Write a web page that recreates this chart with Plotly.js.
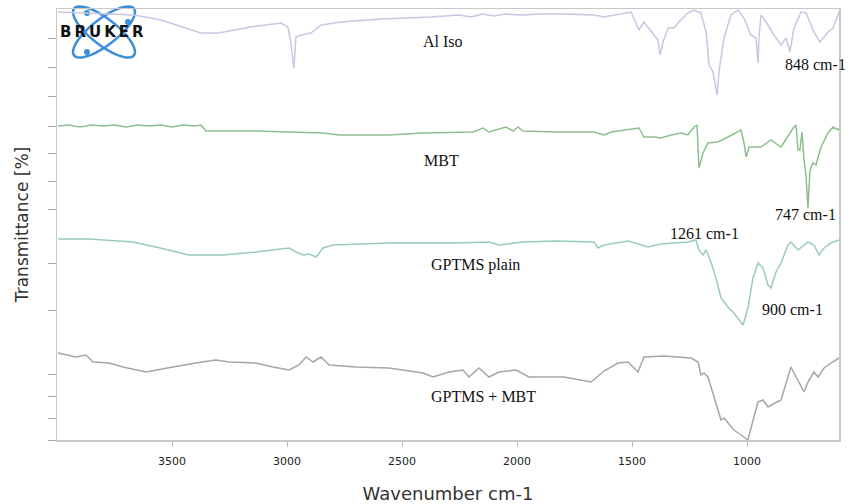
<!DOCTYPE html>
<html>
<head>
<meta charset="utf-8">
<script src="https://cdn.plot.ly/plotly-3.0.1.min.js"></script>
<style>html,body{margin:0;padding:0;background:#fff;}#chart{width:859px;height:504px;}</style>
</head>
<body>
<div id="chart"></div>
<script>
// ---- Data (wavenumber cm-1, stacked transmittance offset units) ----
const alIsoWn = [3996,3665,3548,3374,3300,3157,3026,2996,2983,2970,2961,2939,2896,2852,2765,2591,2374,2300,2250,2200,2150,2100,2050,1980,1900,1796,1665,1622,1504,1470,1448,1387,1378,1365,1343,1317,1296,1257,1230,1200,1178,1165,1148,1130,1122,1100,1070,1039,1013,983,961,952,948,939,909,883,852,830,813,796,765,743,709,683,648,626,600];
const alIsoT  = [428,425,420,407,407,413,417,413,397,372,403,405,407,415,418,421,423,424,425,423,426,424,426,425,426,426,425,423,428,410,418,400,385,398,412,412,418,427,430,427,408,375,368,345,368,402,425,430,422,405,402,377,402,425,415,405,395,402,388,412,428,427,408,398,408,412,428];

const mbtWn = [3996,3950,3900,3850,3800,3750,3700,3650,3600,3550,3500,3450,3400,3374,3352,3135,2843,2774,2557,2409,2191,2148,2122,2048,2017,1996,1974,1830,1665,1622,1591,1470,1448,1404,1374,1330,1287,1257,1230,1217,1209,1191,1170,1126,1083,1026,1013,1004,991,939,896,852,796,787,778,770,761,752,743,735,726,713,700,678,648,626,604,600];
const mbtT  = [314,315,313,315,314,315,313,315,314,315,313,315,314,315,309,309,307,305,305,307,308,312,308,313,309,313,309,308,308,305,308,312,303,303,302,305,307,305,313,315,272,287,297,298,303,310,297,283,293,293,300,293,313,315,290,290,308,280,263,232,270,277,275,293,307,313,310,312];

const gptmsWn = [3996,3861,3670,3570,3426,3278,3135,2991,2961,2930,2904,2874,2843,2800,2557,2265,2122,2078,1974,1830,1665,1648,1622,1517,1430,1374,1257,1222,1209,1191,1178,1157,1135,1113,1083,1057,1017,996,974,952,930,909,896,874,852,822,809,778,735,709,687,665,635,600];
const gptmsT  = [201,201,198,193,185,185,188,192,188,185,186,183,192,195,197,197,198,195,198,199,198,192,195,199,193,196,198,200,190,185,190,178,162,142,133,127,115,132,162,177,172,155,152,168,177,195,198,190,198,195,185,192,197,200];

const mixWn = [3996,3917,3874,3843,3774,3713,3613,3570,3496,3396,3309,3252,3135,3061,2991,2948,2917,2887,2852,2817,2700,2557,2409,2365,2296,2235,2209,2165,2122,2078,2004,1948,1830,1796,1678,1622,1561,1517,1474,1448,1361,1243,1213,1200,1187,1170,1143,1113,1100,1070,1057,1026,996,970,952,930,909,870,852,809,787,752,735,709,691,665,635,600];
const mixT  = [87,83,85,78,77,73,68,70,73,77,80,78,77,73,70,75,83,78,83,75,73,72,67,63,68,70,63,72,63,68,70,63,63,63,58,69,77,78,68,83,84,82,78,65,67,63,43,20,22,13,10,5,0,23,38,40,33,38,40,73,63,48,58,68,63,72,77,82];

const seriesNames = ["Al Iso","MBT","GPTMS plain","GPTMS + MBT"];
const seriesColors = ["#c6c7e2","#8dbf8d","#9dc9c5","#a6a6a6"];
const xTickVals = [3500,3000,2500,2000,1500,1000];
const xTickText = ["3500","3000","2500","2000","1500","1000"];
const yTickVals = [0,22,44,66,130,177,231,259,287,314,344,373,402];

// ---- layout helpers (pixel -> paper) ----
const L = 57, R = 839, T = 9, B = 440;
const px = x => (x - L) / (R - L);
const py = y => (B - y) / (B - T);

const xs = [alIsoWn, mbtWn, gptmsWn, mixWn];
const ys = [alIsoT, mbtT, gptmsT, mixT];
const traces = xs.map((x, i) => ({
  x: x, y: ys[i], type: 'scatter', mode: 'lines', name: seriesNames[i],
  line: {color: seriesColors[i], width: 1.5}, hoverinfo: 'skip'
}));

const serif = {family: 'Liberation Serif, "Times New Roman", serif', size: 16, color: '#111'};
const labels = [
  ["Al Iso", 443, 42], ["848 cm-1", 815, 64], ["MBT", 441, 160], ["747 cm-1", 805, 215],
  ["1261 cm-1", 704, 233], ["GPTMS plain", 475, 265], ["900 cm-1", 792, 309], ["GPTMS + MBT", 483, 396]
];
const annotations = labels.map(l => ({
  text: l[0], xref: 'paper', yref: 'paper', x: px(l[1]), y: py(l[2]),
  xanchor: 'center', yanchor: 'middle', showarrow: false, font: serif
}));
annotations.push({
  text: '<span style="letter-spacing:3px"><b>BRUKER</b></span>', xref: 'paper', yref: 'paper', x: px(103), y: py(32),
  xanchor: 'center', yanchor: 'middle', showarrow: false,
  font: {family: 'DejaVu Sans, sans-serif', size: 15, color: '#111'}
});

// Bruker logo loops (decoration)
function ellipsePath(cx, cy, a, b, angDeg) {
  const th = angDeg * Math.PI / 180;
  let d = '';
  for (let k = 0; k <= 48; k++) {
    const t = 2 * Math.PI * k / 48;
    const ex = a * Math.cos(t), ey = b * Math.sin(t);
    const X = cx + ex * Math.cos(th) - ey * Math.sin(th);
    const Y = cy + ex * Math.sin(th) + ey * Math.cos(th);
    d += (k === 0 ? 'M' : 'L') + px(X).toFixed(4) + ',' + py(Y).toFixed(4);
  }
  return d + 'Z';
}
const logoBlue = '#3d8fd9';
const shapes = [
  {type: 'path', xref: 'paper', yref: 'paper', path: ellipsePath(104, 32, 38, 13, 38), line: {color: logoBlue, width: 2.5}, layer: 'below'},
  {type: 'path', xref: 'paper', yref: 'paper', path: ellipsePath(104, 32, 38, 13, -38), line: {color: logoBlue, width: 2.5}, layer: 'below'}
];
[[87, 13], [87, 52], [128, 22]].forEach(p => shapes.push({
  type: 'circle', xref: 'paper', yref: 'paper', x0: px(p[0] - 3), x1: px(p[0] + 3), y0: py(p[1] + 3), y1: py(p[1] - 3),
  fillcolor: logoBlue, line: {width: 0}, layer: 'below'
}));

const layout = {
  width: 859, height: 504,
  margin: {l: L, r: 859 - R, t: T, b: 504 - B},
  paper_bgcolor: '#fff', plot_bgcolor: '#fff',
  showlegend: false,
  xaxis: {
    range: [4000, 600], tickvals: xTickVals, ticktext: xTickText,
    ticks: 'outside', ticklen: 5, tickcolor: '#bbb', showgrid: false, zeroline: false,
    showline: true, linecolor: '#c8c8c8', linewidth: 1.5, mirror: true,
    ticklabelstandoff: 5,
    tickfont: {family: 'DejaVu Sans, sans-serif', size: 11, color: '#222'},
    title: {text: 'Wavenumber cm-1', font: {family: 'DejaVu Sans, sans-serif', size: 18, color: '#333'}, standoff: 20},
    automargin: false
  },
  yaxis: {
    range: [0, 431], tickvals: yTickVals, showticklabels: false,
    ticks: 'outside', ticklen: 8, tickcolor: '#aaa', showgrid: false, zeroline: false,
    showline: true, linecolor: '#c8c8c8', linewidth: 1.5, mirror: true,
    title: {text: 'Transmittance [%]', font: {family: 'DejaVu Sans, sans-serif', size: 17, color: '#333'}, standoff: 14},
    automargin: false
  },
  annotations: annotations,
  shapes: shapes
};

Plotly.newPlot('chart', traces, layout, {staticPlot: true, displayModeBar: false});
</script>
</body>
</html>
